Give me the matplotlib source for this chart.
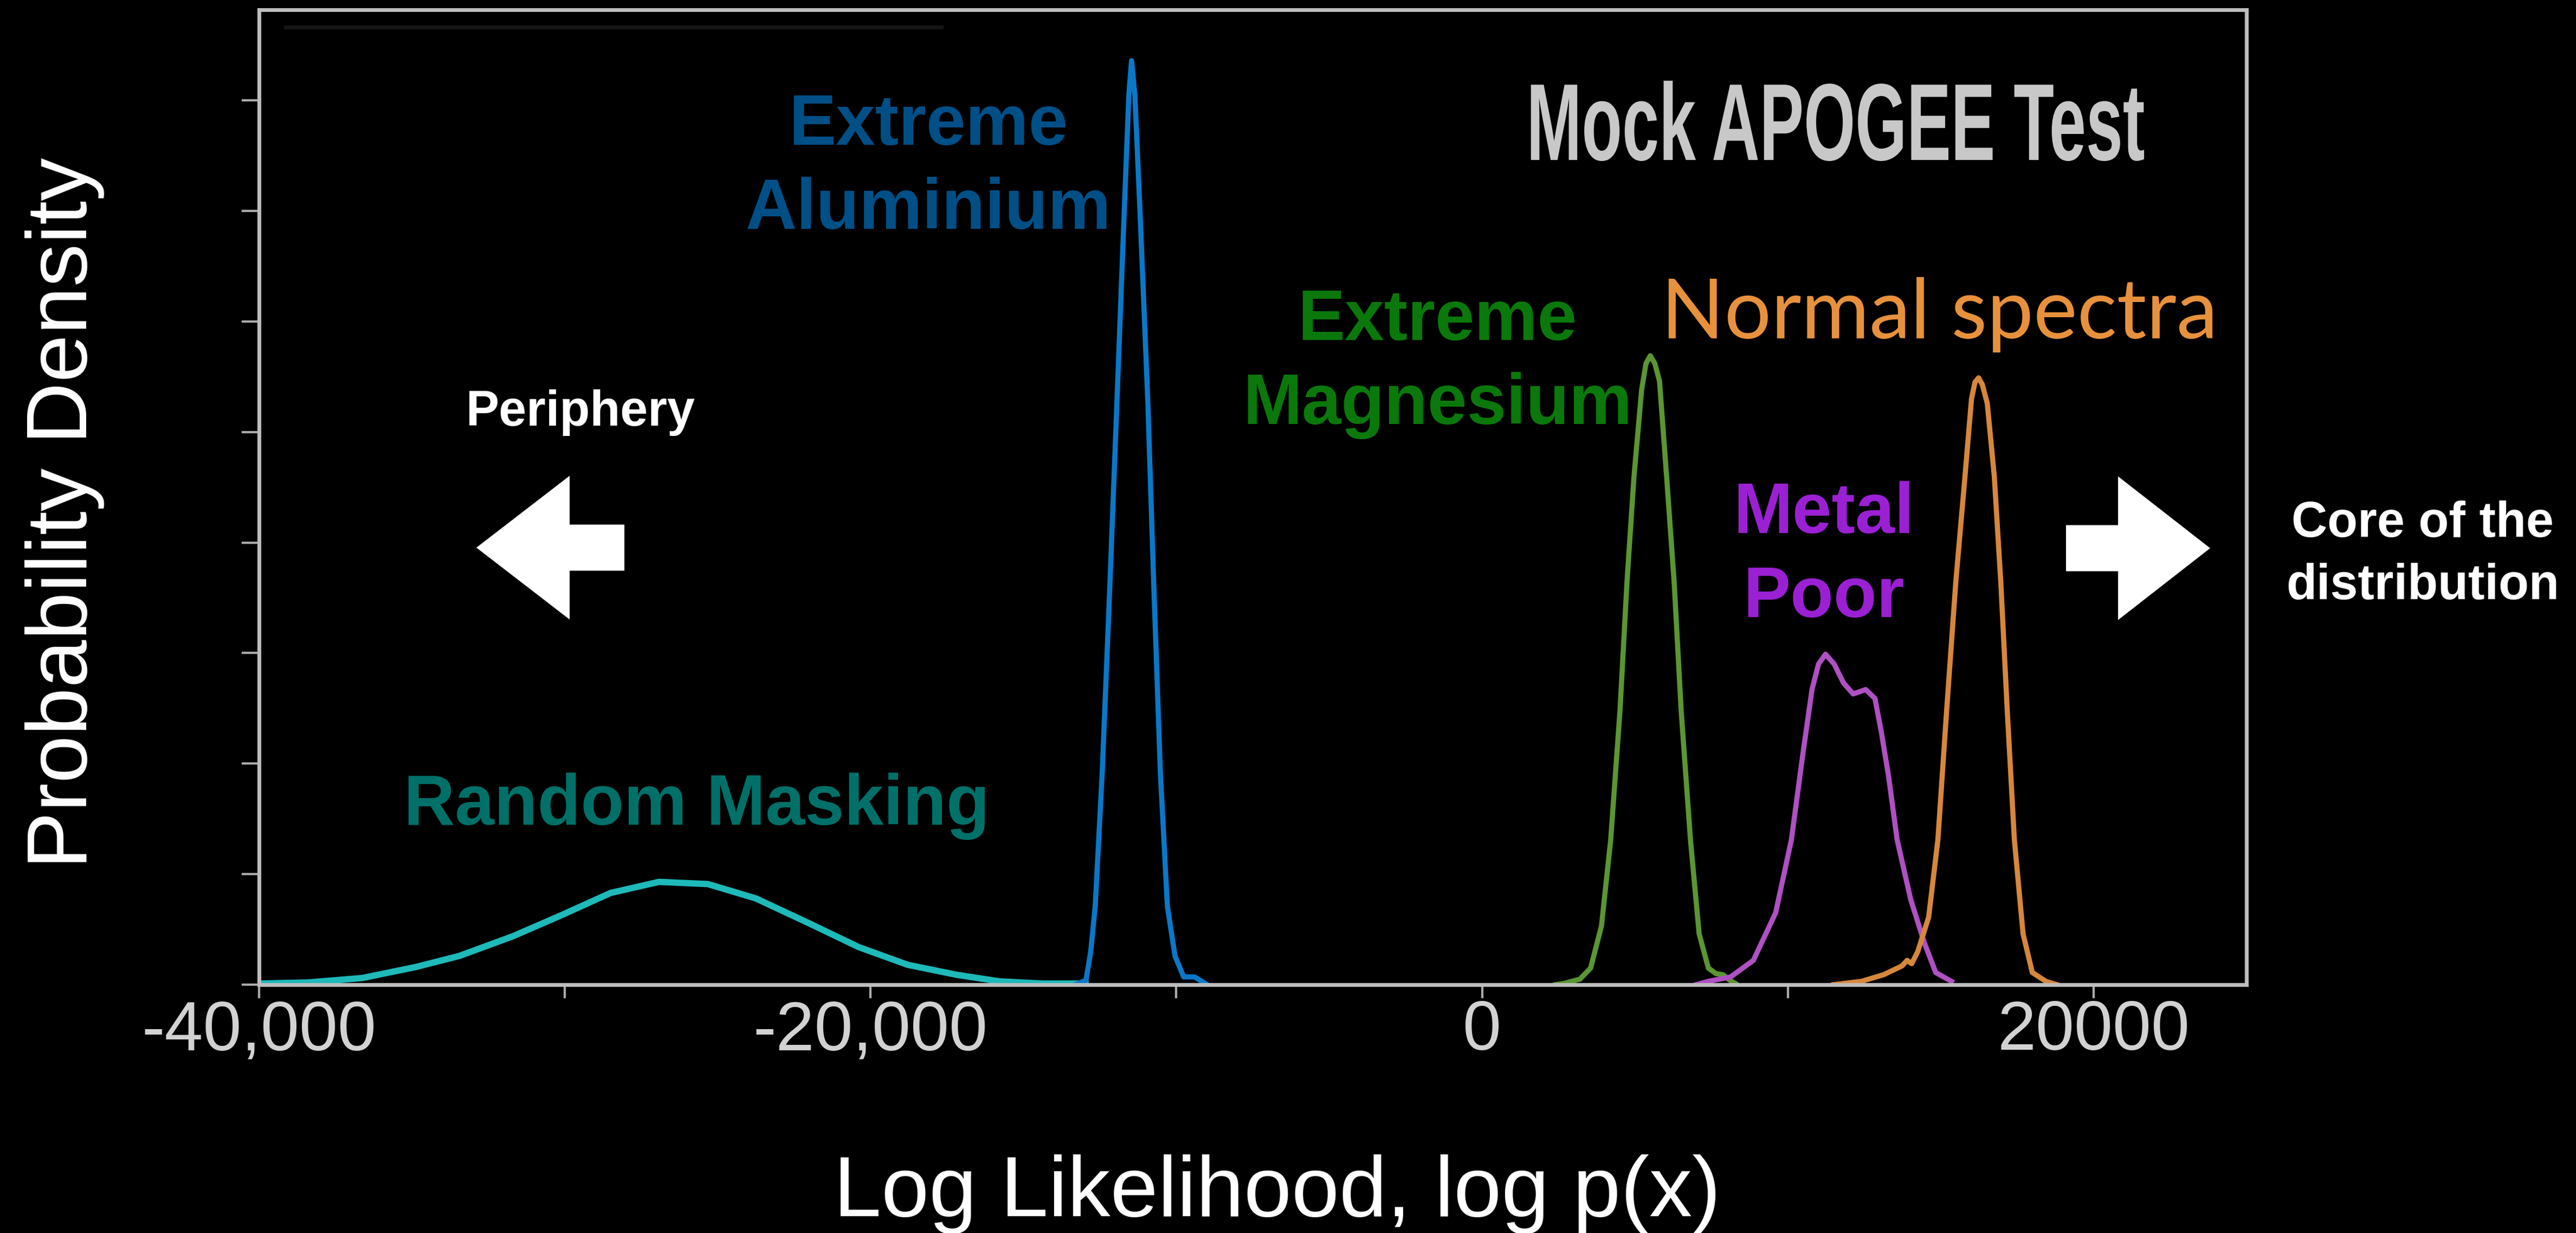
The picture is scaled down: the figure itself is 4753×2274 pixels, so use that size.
import matplotlib.pyplot as plt
import matplotlib.patches as mpatches
from matplotlib.patheffects import AbstractPathEffect
from matplotlib.transforms import Affine2D
from matplotlib.ticker import FixedLocator, FixedFormatter

# values (log likelihood, density)
mask_x = [-39980, -38390, -36630, -34870, -33450, -31680, -30100, -28500, -26920,
          -25320, -23750, -21970, -20390, -18790, -17200, -15790, -14370, -12970]
mask_y = [0.01, 0.02, 0.06, 0.16, 0.26, 0.44, 0.63, 0.83, 0.93,
          0.91, 0.78, 0.55, 0.34, 0.18, 0.09, 0.03, 0.01, 0.01]

alu_x = [-13300, -12955, -12800, -12653, -12422, -12176, -11943, -11712, -11553, -11464,
         -11357, -11180, -10932, -10736, -10524, -10293, -10044, -9760, -9405, -9050]
alu_y = [0.0, 0.04, 0.30, 0.71, 1.93, 3.60, 5.27, 6.94, 8.05, 8.36,
         8.05, 6.94, 5.27, 3.60, 1.93, 0.71, 0.26, 0.07, 0.07, 0.01]

mg_x = [2400, 2662, 3200, 3549, 3904, 4206, 4508, 4738, 4969, 5217, 5360, 5501, 5650,
        5803, 6034, 6282, 6513, 6815, 7099, 7400, 7650, 7879, 8100, 8288]
mg_y = [0.0, 0.01, 0.05, 0.15, 0.53, 1.31, 2.47, 3.64, 4.60, 5.38, 5.62, 5.69, 5.62,
        5.46, 4.60, 3.64, 2.47, 1.31, 0.46, 0.15, 0.10, 0.09, 0.04, 0.01]

poor_x = [7000, 7400, 8128, 8873, 9601, 10115, 10488, 10790, 11003, 11233, 11517,
          11819, 12138, 12546, 12848, 13061, 13292, 13575, 14019, 14463, 14836, 15350]
poor_y = [0.0, 0.03, 0.07, 0.22, 0.65, 1.31, 2.08, 2.67, 2.90, 2.99, 2.90,
          2.73, 2.63, 2.67, 2.59, 2.28, 1.89, 1.31, 0.77, 0.38, 0.11, 0.03]

norm_x = [11500, 12404, 13132, 13735, 13900, 14050, 14250, 14605, 14907, 15191, 15492,
          15794, 16007, 16120, 16238, 16360, 16522, 16752, 16965, 17178, 17409, 17693,
          17995, 18439, 18800]
norm_y = [0.0, 0.03, 0.09, 0.17, 0.22, 0.19, 0.30, 0.61, 1.31, 2.47, 3.64,
          4.60, 5.30, 5.45, 5.49, 5.43, 5.26, 4.60, 3.64, 2.47, 1.31, 0.46,
          0.11, 0.03, 0.0]

xticks = [-40000, -30000, -20000, -10000, 0, 10000, 20000]
xticklabels = ['-40,000', '', '-20,000', '', '0', '', '20000']
yticks = [0, 1, 2, 3, 4, 5, 6, 7, 8]


class TallText(AbstractPathEffect):
    # stretch glyphs vertically about the baseline (condensed look)
    def __init__(self, sy):
        super().__init__()
        self.sy = sy

    def draw_path(self, renderer, gc, tpath, affine, rgbFace=None):
        renderer.draw_path(gc, tpath, Affine2D().scale(1, self.sy) + affine, rgbFace)


W, H = 4753, 2274
fig = plt.figure(figsize=(W / 200, H / 200), dpi=200, facecolor='black')
ax = fig.add_axes([478 / W, 1 - 1816 / H, (4145 - 478) / W, (1816 - 18) / H])
ax.set_facecolor('black')

ax.plot(mask_x, mask_y, color='#1eb9b9', lw=4.2)
ax.plot(alu_x, alu_y, color='#0a78c8', lw=3.4)
ax.plot(mg_x, mg_y, color='#5a9632', lw=3.4)
ax.plot(poor_x, poor_y, color='#af50c3', lw=3.4)
ax.plot(norm_x, norm_y, color='#d7873c', lw=3.4)

ax.set_xlim(-40000, 25000)
ax.set_ylim(0, 8.82)
for s in ax.spines.values():
    s.set_color('#bdbdbd')
    s.set_linewidth(2.5)
ax.xaxis.set_major_locator(FixedLocator(xticks))
ax.xaxis.set_major_formatter(FixedFormatter(xticklabels))
ax.yaxis.set_major_locator(FixedLocator(yticks))
ax.set_yticklabels([])
ax.tick_params(axis='x', length=9, width=1.5, color='#aaaaaa', pad=0.8,
               labelsize=46, labelcolor='#d2d2d2')
ax.tick_params(axis='y', length=11.5, width=1.5, color='#aaaaaa')
for lab in ax.get_xticklabels():
    lab.set_family('Liberation Sans')

ax.set_xlabel('Log Likelihood, log p(x)', fontsize=57, color='white',
              family='Liberation Sans', va='baseline')
ax.xaxis.set_label_coords((2357 - 478) / 3667, (1816 - 2243) / 1798)
ax.set_ylabel('Probability Density', fontsize=57, color='white',
              family='Liberation Sans', va='baseline')
ax.yaxis.set_label_coords((160 - 478) / 3667, (1816 - 946) / 1798)

# overlay in pixel units for the slide annotations
ov = fig.add_axes([0, 0, 1, 1])
ov.set_xlim(0, W)
ov.set_ylim(H, 0)
ov.axis('off')
ov.patch.set_alpha(0)

ov.plot([527, 1737], [50, 50], color='#151515', lw=2.5)

ov.text(3387, 295, 'Mock APOGEE Test', fontsize=44, fontweight='bold', color='#c8c8c8',
        family='Liberation Sans', ha='center', va='baseline',
        path_effects=[TallText(1.65)])
ov.text(3578, 624, 'Normal spectra', fontsize=55, color='#e8913c',
        family=['Lato', 'Open Sans'], ha='center', va='baseline')

labels = [
    ('Extreme', 1713, 267, '#004f86'), ('Aluminium', 1713, 422, '#004f86'),
    ('Extreme', 2652, 627, '#0a780a'), ('Magnesium', 2652, 782, '#0a780a'),
    ('Metal', 3365, 983, '#9b20d4'), ('Poor', 3365, 1138, '#9b20d4'),
    ('Random Masking', 1285, 1521, '#007068'),
]
for txt, x, y, c in labels:
    ov.text(x, y, txt, fontsize=47, fontweight='bold', color=c,
            family='Liberation Sans', ha='center', va='baseline')

ov.text(1071, 785, 'Periphery', fontsize=33, fontweight='bold', color='white',
        family='Liberation Sans', ha='center', va='baseline')
ov.text(4470, 990, 'Core of the', fontsize=33, fontweight='bold', color='white',
        family='Liberation Sans', ha='center', va='baseline')
ov.text(4470, 1105, 'distribution', fontsize=33, fontweight='bold', color='white',
        family='Liberation Sans', ha='center', va='baseline')

ov.add_patch(mpatches.FancyArrow(1152, 1010, -273, 0, width=85, head_width=265,
                                 head_length=172, length_includes_head=True,
                                 color='white', lw=0))
ov.add_patch(mpatches.FancyArrow(3812, 1011, 266, 0, width=85, head_width=265,
                                 head_length=170, length_includes_head=True,
                                 color='white', lw=0))

fig.savefig('out.png', dpi=200, facecolor='black')
